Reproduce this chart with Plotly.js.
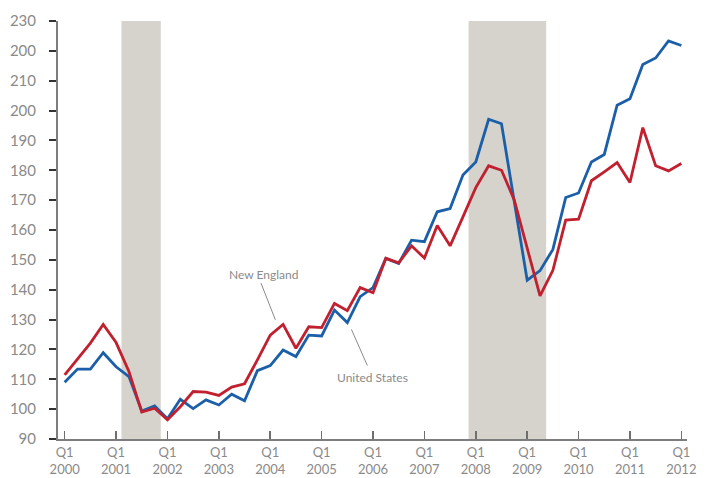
<!DOCTYPE html>
<html>
<head>
<meta charset="utf-8">
<script src="https://cdn.plot.ly/plotly-3.0.1.min.js"></script>
<style>html,body{margin:0;padding:0;background:#fff}#chart{width:707px;height:478px}</style>
</head>
<body>
<div id="chart"></div>
<script>
// Quarterly index values, Q1 2000 .. Q1 2012 (49 quarters)
const startYear = 2000;
const newEngland = [111.5,116.7,122.1,128.4,122.3,112.6,99.0,100.3,96.4,100.8,
  105.9,105.7,104.6,107.4,108.5,116.5,124.8,128.4,120.4,127.6,
  127.3,135.4,133.0,140.7,139.0,150.5,149.0,154.7,150.6,161.5,
  154.7,164.4,174.2,181.5,180.0,170.0,153.5,137.9,146.5,163.3,
  163.6,176.5,179.5,182.6,175.9,194.3,181.5,179.8,182.3];
const unitedStates = [109.0,113.4,113.4,118.9,114.2,110.9,99.4,101.1,96.8,103.3,
  100.2,103.1,101.4,105.0,102.8,112.9,114.6,119.8,117.6,124.8,
  124.5,133.2,129.0,137.7,140.7,150.5,148.8,156.6,156.1,166.1,
  167.2,178.4,182.8,197.1,195.6,169.4,143.2,146.4,153.5,170.9,
  172.4,182.8,185.3,201.8,204.0,215.4,217.6,223.3,221.8];
const quarterX = newEngland.map((_, i) => startYear + i * 0.25);

const tickYears = [2000,2001,2002,2003,2004,2005,2006,2007,2008,2009,2010,2011,2012];
const tickYearLabels = tickYears.map(y => 'Q1<br>' + y);
const yTickVals = [90,100,110,120,130,140,150,160,170,180,190,200,210,220,230];
const yTickText = ['90','100','110','120','130','140','150','160','170','180','190','200','210','200','230'];

// recessions (decimal years)
const recessionStart = [2001.105, 2007.86];
const recessionEnd = [2001.87, 2009.37];

const seriesNames = ['New England', 'United States'];
const red = '#c1202f', blue = '#1b5fa9', grey = '#8a8a8a';
const fontFam = 'Lato, "Open Sans", sans-serif';

const traces = [
  {x: quarterX, y: unitedStates, type: 'scatter', mode: 'lines', name: seriesNames[1],
   line: {color: blue, width: 2.8}},
  {x: quarterX, y: newEngland, type: 'scatter', mode: 'lines', name: seriesNames[0],
   line: {color: red, width: 2.8}}
];

const shapes = recessionStart.map((s, i) => ({
  type: 'rect', xref: 'x', yref: 'y', x0: s, x1: recessionEnd[i], y0: 90, y1: 230,
  fillcolor: '#d6d3cd', line: {width: 0}, layer: 'below'
}));
// leader lines for the series labels
shapes.push(
  {type: 'line', xref: 'x', yref: 'y', x0: 2003.82, y0: 142.2, x1: 2004.10, y1: 129.9,
   line: {color: '#8a8a8a', width: 1}},
  {type: 'line', xref: 'x', yref: 'y', x0: 2005.58, y0: 126.7, x1: 2005.89, y1: 114.6,
   line: {color: '#8a8a8a', width: 1}}
);

const layout = {
  width: 707, height: 478,
  margin: {l: 58, r: 20, t: 21, b: 39},
  paper_bgcolor: '#fff', plot_bgcolor: '#fff',
  showlegend: false,
  font: {family: fontFam, color: grey, size: 14},
  xaxis: {
    range: [1999.87, 2012.11], tickvals: tickYears, ticktext: tickYearLabels,
    showgrid: false, zeroline: false, showline: true, linecolor: '#7d7d7d', linewidth: 2,
    ticks: 'inside', ticklen: 8, tickwidth: 1.5, tickcolor: '#6f6f6f',
    ticklabelstandoff: 0,
    tickfont: {family: fontFam, size: 13, color: grey}
  },
  yaxis: {
    range: [90, 230], tickvals: yTickVals, ticktext: yTickText,
    showgrid: false, zeroline: false, showline: true, linecolor: '#7d7d7d', linewidth: 2,
    ticks: 'outside', ticklen: 7, tickwidth: 2, tickcolor: '#333',
    ticklabelstandoff: 10,
    tickfont: {family: fontFam, size: 15, color: grey}
  },
  shapes: shapes,
  annotations: [
    {x: 2003.87, y: 145.2, xref: 'x', yref: 'y', text: seriesNames[0], showarrow: false,
     xanchor: 'center', yanchor: 'middle', font: {size: 12, color: grey, family: fontFam}},
    {x: 2005.99, y: 110.6, xref: 'x', yref: 'y', text: seriesNames[1], showarrow: false,
     xanchor: 'center', yanchor: 'middle', font: {size: 12, color: grey, family: fontFam}}
  ]
};

Plotly.newPlot('chart', traces, layout, {staticPlot: true, displayModeBar: false});
</script>
</body>
</html>
